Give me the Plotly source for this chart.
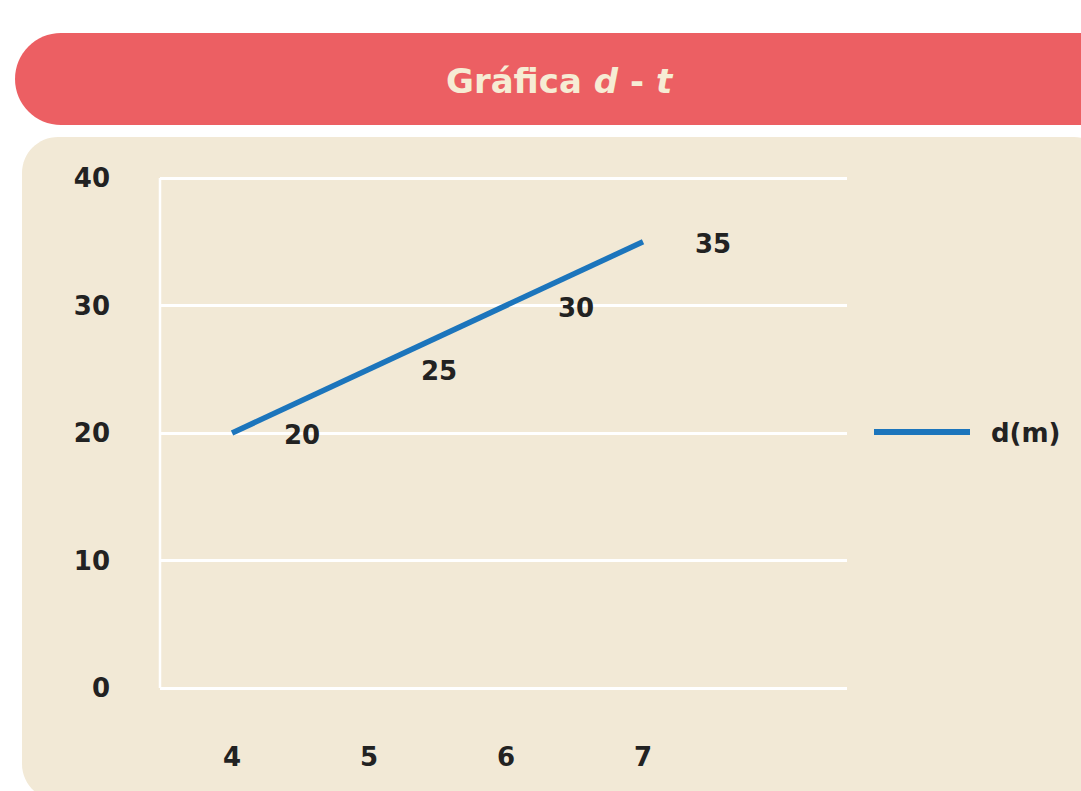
import plotly.graph_objects as go

# ---- data ----
t_values = [4, 5, 6, 7]
t_labels = ["4", "5", "6", "7"]
d_values = [20, 25, 30, 35]
series_name = "d(m)"
y_ticks = [0, 10, 20, 30, 40]

W, H = 1081, 791
BLUE = "#1C75BC"
RED = "#EC5F63"
PANEL = "#F2E9D6"
CREAM = "#F6ECD4"
TXT = "#222222"
FONT = "DejaVu Sans"
FS = 26


def px(x):
    return x / W


def py(y):
    return 1 - y / H


def rrect(x0, y0, x1, y1, r):
    k = 0.5523 * r
    pts = [
        ("M", [(x0 + r, y0)]),
        ("L", [(x1 - r, y0)]),
        ("C", [(x1 - r + k, y0), (x1, y0 + r - k), (x1, y0 + r)]),
        ("L", [(x1, y1 - r)]),
        ("C", [(x1, y1 - r + k), (x1 - r + k, y1), (x1 - r, y1)]),
        ("L", [(x0 + r, y1)]),
        ("C", [(x0 + r - k, y1), (x0, y1 - r + k), (x0, y1 - r)]),
        ("L", [(x0, y0 + r)]),
        ("C", [(x0, y0 + r - k), (x0 + r - k, y0), (x0 + r, y0)]),
    ]
    s = ""
    for cmd, ps in pts:
        s += cmd + " " + " ".join(f"{px(a):.5f},{py(b):.5f}" for a, b in ps) + " "
    return s + "Z"


fig = go.Figure()
fig.add_trace(go.Scatter(
    x=t_values, y=d_values, mode="lines", name=series_name,
    line=dict(color=BLUE, width=5.5), showlegend=False, hoverinfo="skip",
))

# data labels
for xv, yv in zip(t_values, d_values):
    fig.add_annotation(x=xv, y=yv, text=str(yv), showarrow=False,
                       xshift=70, yshift=-2,
                       font=dict(family=FONT, size=FS, color=TXT, weight=700))

shapes = [
    dict(type="path", xref="paper", yref="paper", layer="below",
         path=rrect(15, 33, 1125, 125, 46), fillcolor=RED, line=dict(width=0)),
    dict(type="path", xref="paper", yref="paper", layer="below",
         path=rrect(22, 137, 1110, 800, 36), fillcolor=PANEL, line=dict(width=0)),
    # manual legend swatch
    dict(type="line", xref="paper", yref="paper",
         x0=px(874), x1=px(970), y0=py(432), y1=py(432),
         line=dict(color=BLUE, width=6)),
    # left vertical axis line
    dict(type="line", xref="paper", yref="paper",
         x0=px(160), x1=px(160), y0=py(688), y1=py(178),
         line=dict(color="white", width=2.5)),
]

annotations = [
    dict(xref="paper", yref="paper", x=px(560), y=py(81), showarrow=False,
         text="Gráfica <i>d</i> - <i>t</i>", xanchor="center", yanchor="middle",
         font=dict(family=FONT, size=34, color=CREAM, weight=700)),
    dict(xref="paper", yref="paper", x=px(989), y=py(433), showarrow=False,
         text=series_name, xanchor="left", yanchor="middle",
         font=dict(family=FONT, size=FS, color=TXT, weight=700)),
]
for a in annotations:
    fig.add_annotation(**a)

ypp = 510 / 40.0
pad = 0.12

fig.update_layout(
    width=W, height=H,
    autosize=False,
    margin=dict(l=0, r=0, t=0, b=0, pad=0, autoexpand=False),
    paper_bgcolor="white",
    plot_bgcolor="rgba(0,0,0,0)",
    shapes=shapes,
    showlegend=False,
    xaxis=dict(
        domain=[px(160), px(847)],
        range=[3.474, 8.489],
        tickvals=t_values, ticktext=t_labels,
        showgrid=False, zeroline=False, showline=False,
        automargin=False,
        ticks="", ticklabelstandoff=49,
        tickfont=dict(family=FONT, size=FS, color=TXT, weight=700),
    ),
    yaxis=dict(
        domain=[py(688 + pad * ypp), py(178 - pad * ypp)],
        range=[-pad, 40 + pad],
        tickvals=y_ticks,
        showgrid=True, gridcolor="white", gridwidth=2.5,
        zeroline=False,
        showline=False,
        automargin=False,
        ticks="", ticklabelstandoff=49,
        tickfont=dict(family=FONT, size=FS, color=TXT, weight=700),
    ),
)

fig.write_html("out.html")
